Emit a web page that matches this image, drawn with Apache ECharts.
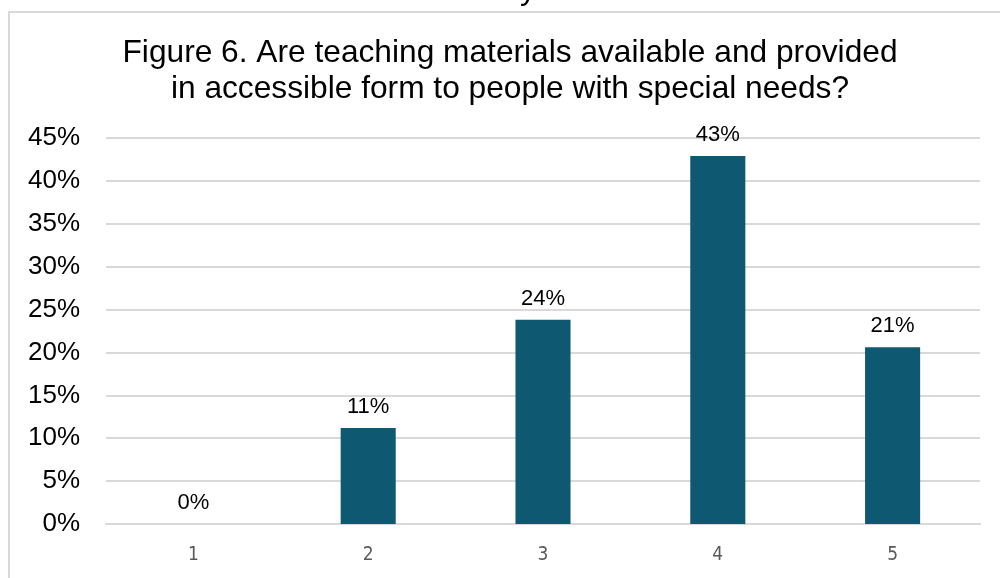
<!DOCTYPE html>
<html>
<head>
<meta charset="utf-8">
<script src="https://cdn.jsdelivr.net/npm/echarts@6/dist/echarts.min.js"></script>
<style>html,body{margin:0;padding:0;background:#fff}#c{width:1000px;height:578px}</style>
</head>
<body>
<div id="c"></div>
<script>
var categories = ['1', '2', '3', '4', '5'];
var values = [0, 0.112, 0.238, 0.429, 0.206];
var yTicks = { min: 0, max: 0.45, interval: 0.05 };
var titleText = 'Figure 6. Are teaching materials available and provided\nin accessible form to people with special needs?';

var chart = echarts.init(document.getElementById('c'));
chart.setOption({
  animation: false,
  backgroundColor: '#fff',
  title: {
    text: titleText,
    left: 505,
    top: 30,
    textAlign: 'center',
    textStyle: { fontFamily: 'Liberation Sans, Arial', fontSize: 31.7, fontWeight: 'normal', color: '#000', lineHeight: 36 }
  },
  graphic: [
    { type: 'rect', shape: { x: 9, y: 12, width: 1100, height: 700 }, style: { fill: 'none', stroke: '#d9d9d9', lineWidth: 2 }, z: -1 },
    { type: 'text', x: 520, y: -26, style: { text: 'y', fontFamily: 'Liberation Sans, Arial', fontSize: 32, fill: '#000' } }
  ],
  grid: { left: 106, right: 20, top: 138, bottom: 54, containLabel: false },
  xAxis: {
    type: 'category',
    data: categories,
    axisLine: { show: true, lineStyle: { color: '#d9d9d9', width: 2 } },
    axisTick: { show: false },
    axisLabel: { color: '#595959', fontSize: 19, fontFamily: 'Liberation Sans Narrow, DejaVu Sans Condensed, Arial', margin: 22 }
  },
  yAxis: {
    type: 'value',
    min: yTicks.min, max: yTicks.max, interval: yTicks.interval,
    axisLine: { show: false },
    axisTick: { show: false },
    splitLine: { lineStyle: { color: '#d9d9d9', width: 2 } },
    axisLabel: {
      color: '#000', fontSize: 26, fontFamily: 'Liberation Sans, Arial', margin: 26,
      formatter: function (v) { return Math.round(v * 100) + '%'; }
    }
  },
  series: [{
    type: 'bar',
    data: values,
    barWidth: '31.5%',
    itemStyle: { color: '#0f5872' },
    label: {
      show: true, position: 'top', distance: 10,
      color: '#000', fontSize: 22, fontFamily: 'Liberation Sans, Arial',
      formatter: function (p) { return Math.round(p.value * 100) + '%'; }
    }
  }]
});
</script>
</body>
</html>
